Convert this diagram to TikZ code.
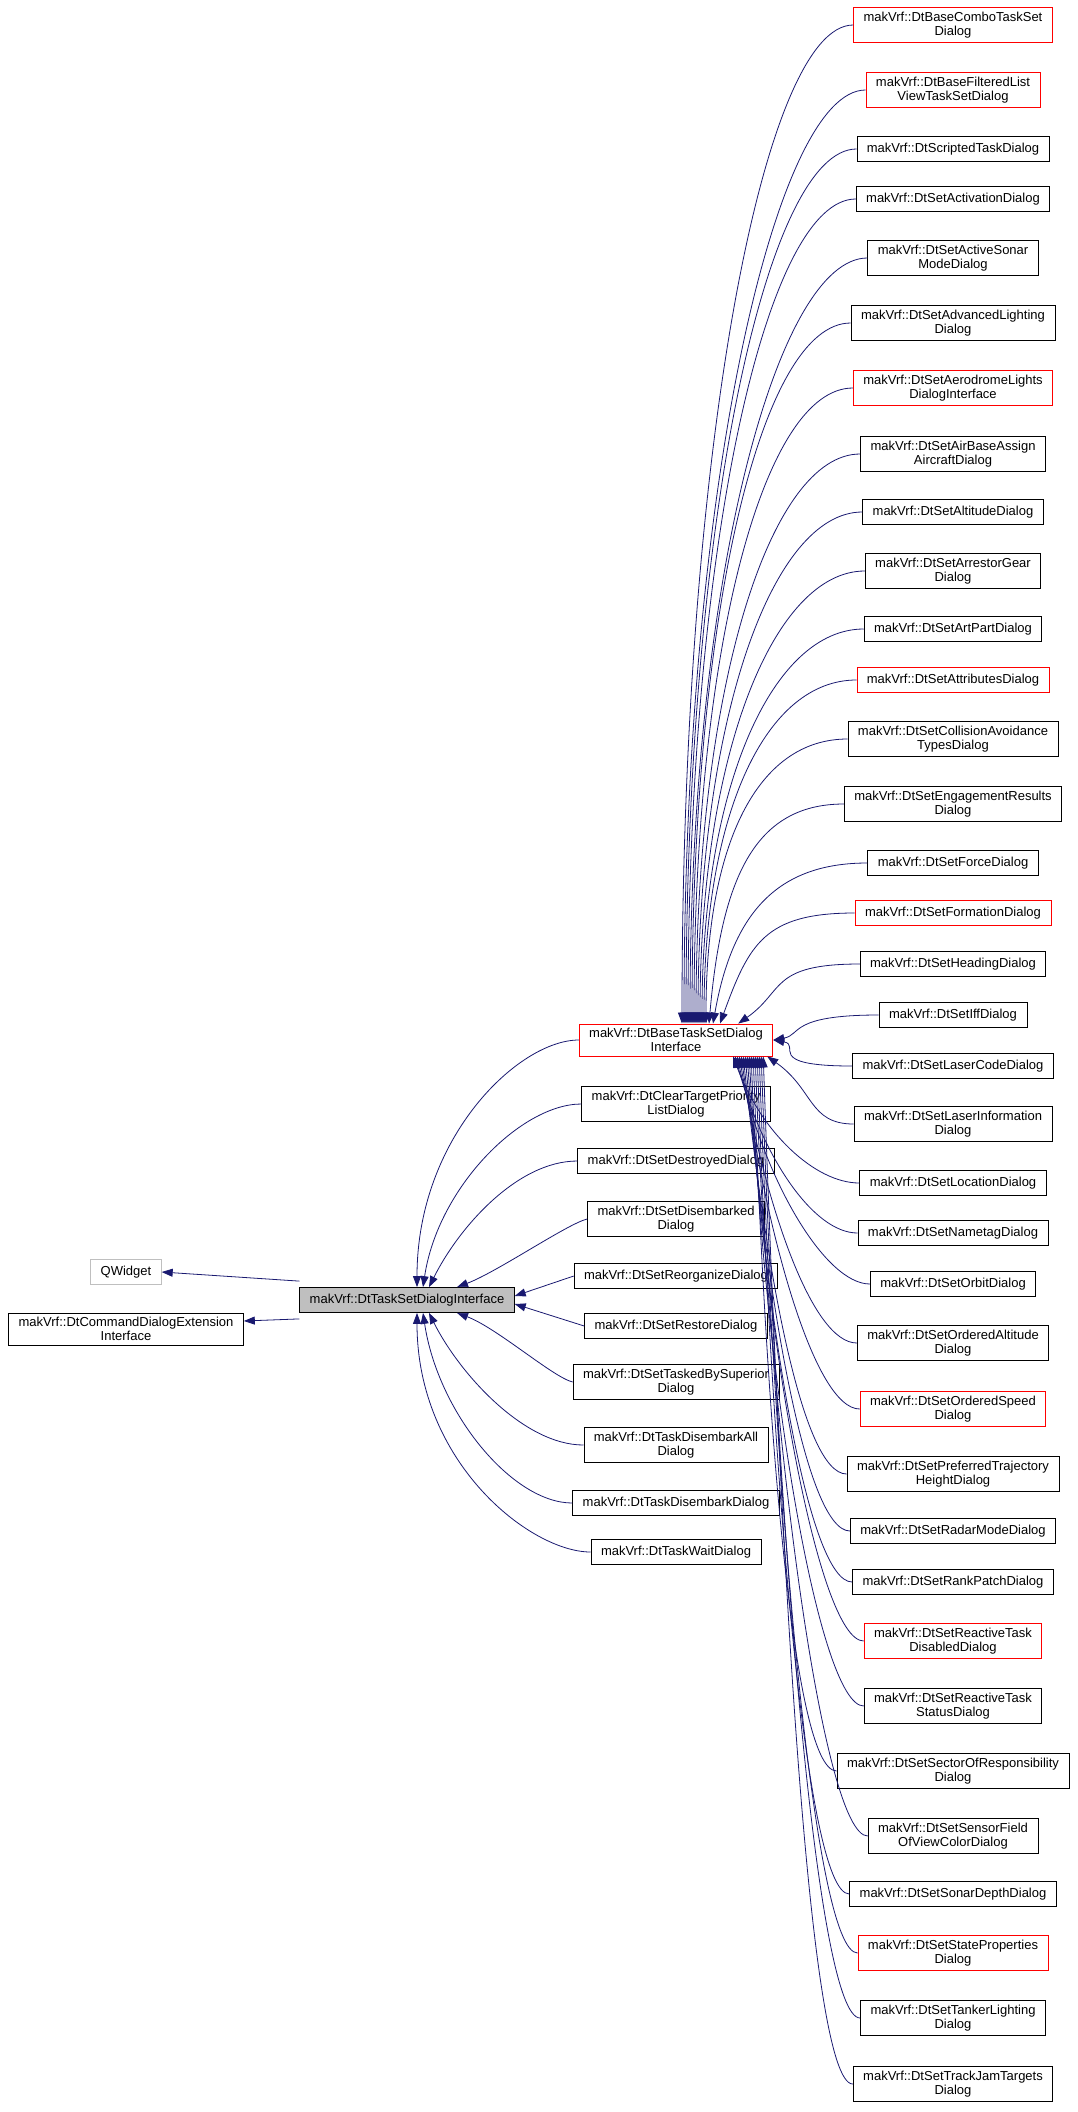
\documentclass[tikz,border=0pt]{standalone}
\usepackage{fontspec}
\setmainfont{Liberation Sans}
\usepackage{xcolor}
\usetikzlibrary{arrows.meta}
\definecolor{edgeblue}{HTML}{191970}
\definecolor{boxgray}{HTML}{BFBFBF}
\tikzset{
  cls/.style={draw=black, line width=0.8pt, align=center, inner xsep=10pt, inner ysep=4pt,
    minimum height=25pt, font=\fontsize{13}{14.5}\selectfont},
  inh/.style={draw=edgeblue, line width=0.8pt, -{Triangle[length=11pt,width=8pt]}}
}
\begin{document}
\begin{tikzpicture}[x=1pt,y=-1pt]
\useasboundingbox (0,0) rectangle (1077,2112);
% left and middle
\node[cls, draw=boxgray] (qw) at (126,1272) {QWidget};
\node[cls] (cde) at (126,1329) {makVrf::DtCommandDialogExtension\\Interface};
\node[cls, fill=boxgray] (tsi) at (407,1300) {makVrf::DtTaskSetDialogInterface};
\node[cls, draw=red] (b) at (676,1040) {makVrf::DtBaseTaskSetDialog\\Interface};
\foreach \n/\y/\t in {m1/1104/{makVrf::DtClearTargetPriority\\ListDialog},
  m2/1161/{makVrf::DtSetDestroyedDialog},
  m3/1219/{makVrf::DtSetDisembarked\\Dialog},
  m4/1276/{makVrf::DtSetReorganizeDialog},
  m5/1326/{makVrf::DtSetRestoreDialog},
  m6/1382/{makVrf::DtSetTaskedBySuperior\\Dialog},
  m7/1445/{makVrf::DtTaskDisembarkAll\\Dialog},
  m8/1503/{makVrf::DtTaskDisembarkDialog},
  m9/1552/{makVrf::DtTaskWaitDialog}}
  \node[cls] (\n) at (676,\y) {\t};
% right column
\foreach \n/\y/\t/\c/\a/\s/\i/\f in {
  r1/25/{makVrf::DtBaseComboTaskSet\\Dialog}/red/north/6/90/0.55,
  r2/90/{makVrf::DtBaseFilteredList\\ViewTaskSetDialog}/red/north/8/90/0.55,
  r3/149/{makVrf::DtScriptedTaskDialog}/black/north/10/90/0.55,
  r4/199/{makVrf::DtSetActivationDialog}/black/north/12/90/0.55,
  r5/258/{makVrf::DtSetActiveSonar\\ModeDialog}/black/north/14/90/0.55,
  r6/323/{makVrf::DtSetAdvancedLighting\\Dialog}/black/north/16/90/0.55,
  r7/388/{makVrf::DtSetAerodromeLights\\DialogInterface}/red/north/18/90/0.55,
  r8/454/{makVrf::DtSetAirBaseAssign\\AircraftDialog}/black/north/20/90/0.55,
  r9/512/{makVrf::DtSetAltitudeDialog}/black/north/22/90/0.55,
  r10/571/{makVrf::DtSetArrestorGear\\Dialog}/black/north/24/90/0.55,
  r11/629/{makVrf::DtSetArtPartDialog}/black/north/26/90/0.55,
  r12/680/{makVrf::DtSetAttributesDialog}/red/north/28/90/0.55,
  r13/739/{makVrf::DtSetCollisionAvoidance\\TypesDialog}/black/north/30/90/0.55,
  r14/804/{makVrf::DtSetEngagementResults\\Dialog}/black/north/33/85/0.55,
  r15/863/{makVrf::DtSetForceDialog}/black/north/37/80/0.55,
  r16/913/{makVrf::DtSetFormationDialog}/red/north/44/70/0.55,
  r17/964/{makVrf::DtSetHeadingDialog}/black/north east/-35/35/0.55,
  r18/1015/{makVrf::DtSetIffDialog}/black/east/0/10/0.55,
  r19/1066/{makVrf::DtSetLaserCodeDialog}/black/east/0/-10/0.55,
  r20/1124/{makVrf::DtSetLaserInformation\\Dialog}/black/south east/-6/-35/0.5,
  r21/1183/{makVrf::DtSetLocationDialog}/black/south east/-40/-70/0.45,
  r22/1233/{makVrf::DtSetNametagDialog}/black/south east/-38/-75/0.45,
  r23/1284/{makVrf::DtSetOrbitDialog}/black/south east/-36/-78/0.45,
  r24/1343/{makVrf::DtSetOrderedAltitude\\Dialog}/black/south east/-34/-80/0.45,
  r25/1409/{makVrf::DtSetOrderedSpeed\\Dialog}/red/south east/-32/-82/0.45,
  r26/1474/{makVrf::DtSetPreferredTrajectory\\HeightDialog}/black/south east/-30/-84/0.45,
  r27/1531/{makVrf::DtSetRadarModeDialog}/black/south east/-28/-85/0.45,
  r28/1582/{makVrf::DtSetRankPatchDialog}/black/south east/-26/-86/0.45,
  r29/1641/{makVrf::DtSetReactiveTask\\DisabledDialog}/red/south east/-24/-87/0.45,
  r30/1706/{makVrf::DtSetReactiveTask\\StatusDialog}/black/south east/-22/-88/0.45,
  r31/1771/{makVrf::DtSetSectorOfResponsibility\\Dialog}/black/south east/-20/-88/0.45,
  r32/1836/{makVrf::DtSetSensorField\\OfViewColorDialog}/black/south east/-18/-88/0.45,
  r33/1894/{makVrf::DtSetSonarDepthDialog}/black/south east/-16/-88/0.45,
  r34/1953/{makVrf::DtSetStateProperties\\Dialog}/red/south east/-14/-88/0.45,
  r35/2018/{makVrf::DtSetTankerLighting\\Dialog}/black/south east/-12/-88/0.45,
  r36/2084/{makVrf::DtSetTrackJamTargets\\Dialog}/black/south east/-10/-88/0.45}
{
  \node[cls, draw=\c] (\n) at (953,\y) {\t};
  \pgfmathsetmacro\L{abs(\y-1040)*\f+15}
  \pgfmathsetmacro\D{\y>1100 ? 45 : 90}
  \draw[inh] (\n.west) .. controls +(-\D,0) and +({cos(\i)*\L},{-sin(\i)*\L}) .. ([xshift=\s]b.\a);
}
% middle column edges
\draw[inh] (b.west) .. controls +(-60,0) and +(0,-150) .. ([xshift=10pt]tsi.north);
\draw[inh] (m1.west) .. controls +(-60,0) and +(15,-100) .. ([xshift=16pt]tsi.north);
\draw[inh] (m2.west) .. controls +(-60,0) and +(30,-60) .. ([xshift=22pt]tsi.north);
\draw[inh] (m3.west) .. controls +(-20,5) and +(40,-15) .. ([xshift=50pt]tsi.north);
\draw[inh] (m4.west) -- ([yshift=4pt]tsi.east);
\draw[inh] (m5.west) -- ([yshift=-4pt]tsi.east);
\draw[inh] (m6.west) .. controls +(-20,-5) and +(40,15) .. ([xshift=50pt]tsi.south);
\draw[inh] (m7.west) .. controls +(-60,0) and +(30,60) .. ([xshift=22pt]tsi.south);
\draw[inh] (m8.west) .. controls +(-60,0) and +(15,100) .. ([xshift=16pt]tsi.south);
\draw[inh] (m9.west) .. controls +(-60,0) and +(0,150) .. ([xshift=10pt]tsi.south);
% bases of the interface
\draw[inh] ([yshift=6pt]tsi.north west) -- (qw.east);
\draw[inh] ([yshift=-6pt]tsi.south west) -- ([yshift=8pt]cde.east);
\end{tikzpicture}
\end{document}
